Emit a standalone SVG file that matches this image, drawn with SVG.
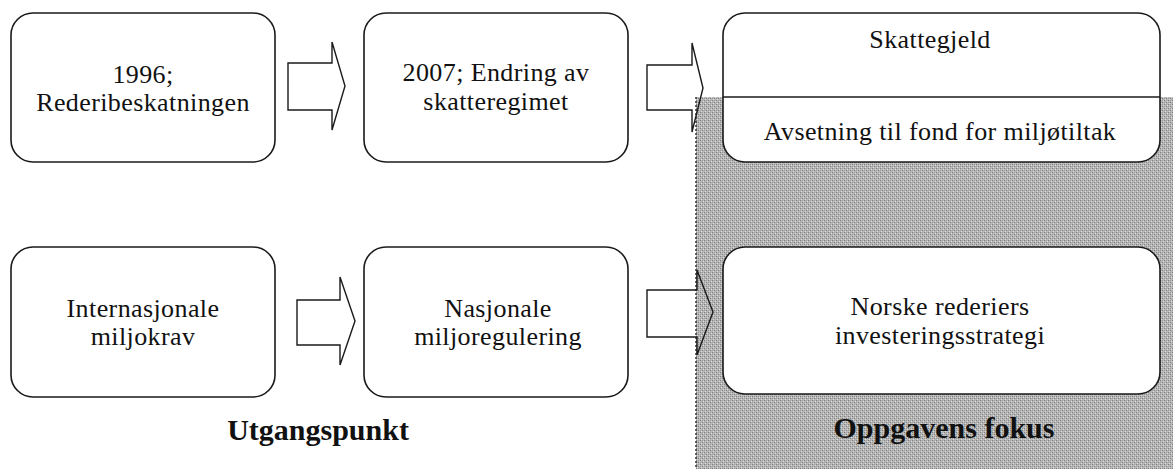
<svg xmlns="http://www.w3.org/2000/svg" width="1173" height="469" viewBox="0 0 1173 469">
  <defs>
    <!-- dithered grey screen for the focus area -->
    <pattern id="screen" width="4" height="4" patternUnits="userSpaceOnUse">
      <rect width="4" height="4" fill="#b8b8b8"/>
      <rect x="0" y="0" width="1" height="1" fill="#7e7e7e"/>
      <rect x="2" y="2" width="1" height="1" fill="#7e7e7e"/>
      <rect x="2" y="0" width="1" height="1" fill="#9a9a9a"/>
      <rect x="0" y="2" width="1" height="1" fill="#9a9a9a"/>
      <rect x="1" y="3" width="1" height="1" fill="#dadada"/>
      <rect x="3" y="1" width="1" height="1" fill="#dadada"/>
    </pattern>
    <style>
      .box { fill: #ffffff; stroke: #1a1a1a; stroke-width: 1.6; }
      .arrow { fill: none; stroke: #1a1a1a; stroke-width: 1.4; stroke-linejoin: miter; }
      .txt { font-family: "Liberation Serif", "Times New Roman", serif; font-size: 26px; letter-spacing: 0.4px; fill: #111; text-anchor: middle; }
      .lbl { font-family: "Liberation Serif", "Times New Roman", serif; font-size: 30px; font-weight: bold; fill: #111; text-anchor: middle; }
    </style>
  </defs>

  <rect width="1173" height="469" fill="#ffffff"/>

  <!-- focus area -->
  <g id="focus-area">
    <rect x="696" y="97" width="477" height="372" fill="url(#screen)"/>
    <line x1="696" y1="97" x2="696" y2="469" stroke="#333" stroke-width="1.5" stroke-dasharray="2 2"/>
  </g>

  <!-- connectors -->
  <g id="connectors">
    <path class="arrow" d="M288,63 H332 V42 L345,86 L332,130 V110 H288 Z"/>
    <path class="arrow" d="M647,65 H692 V43 L703,88 L692,132 V110 H647 Z"/>
    <path class="arrow" d="M297,300 H340 V277 L355,321 L340,365 V345 H297 Z"/>
    <path class="arrow" d="M647,290 H697 V270 L713,312 L697,355 V337 H647 Z"/>
  </g>

  <g id="node-rederibeskatningen">
    <rect class="box" x="11" y="13" width="264" height="149" rx="22" ry="22"/>
    <text class="txt" x="143" y="83">1996;</text>
    <text class="txt" x="143" y="111">Rederibeskatningen</text>
  </g>

  <g id="node-endring">
    <rect class="box" x="364" y="13" width="264" height="149" rx="22" ry="22"/>
    <text class="txt" x="496" y="81">2007; Endring av</text>
    <text class="txt" x="496" y="110">skatteregimet</text>
  </g>

  <g id="node-skatt">
    <rect class="box" x="723" y="13" width="437" height="149" rx="22" ry="22"/>
    <line x1="723" y1="97" x2="1160" y2="97" stroke="#1a1a1a" stroke-width="1.6"/>
    <text class="txt" x="930" y="48">Skattegjeld</text>
    <text class="txt" x="940" y="140">Avsetning til fond for miljøtiltak</text>
  </g>

  <g id="node-internasjonale">
    <rect class="box" x="11" y="247" width="264" height="150" rx="22" ry="22"/>
    <text class="txt" x="143" y="317">Internasjonale</text>
    <text class="txt" x="143" y="345">miljokrav</text>
  </g>

  <g id="node-nasjonale">
    <rect class="box" x="364" y="247" width="264" height="150" rx="22" ry="22"/>
    <text class="txt" x="498" y="317">Nasjonale</text>
    <text class="txt" x="498" y="345">miljoregulering</text>
  </g>

  <g id="node-investering">
    <rect class="box" x="723" y="247" width="437" height="147" rx="22" ry="22"/>
    <text class="txt" x="940" y="315">Norske rederiers</text>
    <text class="txt" x="940" y="344">investeringsstrategi</text>
  </g>

  <g id="labels">
    <text class="lbl" x="318" y="440">Utgangspunkt</text>
    <text class="lbl" x="944" y="438">Oppgavens fokus</text>
  </g>
</svg>
